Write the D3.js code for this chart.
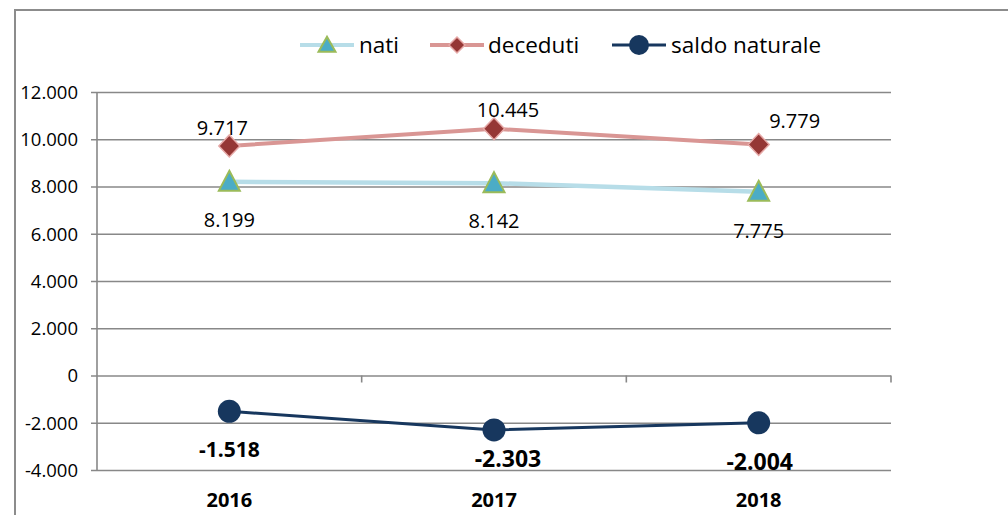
<!DOCTYPE html>
<html>
<head>
<meta charset="utf-8">
<script src="https://cdn.jsdelivr.net/npm/d3@7"></script>
<style>
  html, body { margin: 0; padding: 0; background: #fff; }
  svg { display: block; }
  text { font-family: "Open Sans", "Noto Sans", sans-serif; fill: #000; }
</style>
</head>
<body>
<svg id="chart" width="1008" height="515"></svg>
<script>
// ---- data ----
const years = ["2016", "2017", "2018"];
const nati = [8199, 8142, 7775];
const deceduti = [9717, 10445, 9779];
const saldo = [-1518, -2303, -2004];
const yTicks = [-4000, -2000, 0, 2000, 4000, 6000, 8000, 10000, 12000];
const seriesNames = ["nati", "deceduti", "saldo naturale"];

// ---- layout / style (not data) ----
const W = 1008, H = 515;
const plot = { left: 97, right: 891, top: 92, bottom: 470 };
const grid = "#888888";
const col = {
  natiLine: "#b7dde8", natiFill: "#4bacc6", natiStroke: "#9bbb59",
  decLine: "#d99694", decFill: "#953735", decStroke: "#e6a9a7",
  saldo: "#17375e"
};
// label offsets relative to each point [dx, dy of baseline]
const natiLab = [[0, 45], [0, 45], [0, 46]];
const decLab = [[-7, -11], [14, -12], [36, -16]];
const saldoLab = [[0, 46], [14, 37], [1, 47]];
const saldoSize = [21, 23, 23];

const loc = d3.formatLocale({ decimal: ",", thousands: ".", grouping: [3], currency: ["€", ""], minus: "-" });
const fmt = loc.format(",d");

const svg = d3.select("#chart");

// outer border (top and left visible)
svg.append("path")
  .attr("d", `M15,${H + 5} V10 H${W + 5}`)
  .attr("fill", "none").attr("stroke", "#8c8c8c").attr("stroke-width", 2);

const x = d3.scaleBand().domain(years).range([plot.left, plot.right]);
const y = d3.scaleLinear().domain([-4000, 12000]).range([plot.bottom, plot.top]);
const cx = d => x(d) + x.bandwidth() / 2;

// gridlines + left ticks
const yAxis = d3.axisLeft(y).tickValues(yTicks).tickFormat(fmt)
  .tickSize(-(plot.right - plot.left)).tickPadding(19);
const gy = svg.append("g").attr("transform", `translate(${plot.left},0)`).call(yAxis);
gy.attr("font-size", null).attr("font-family", null);
gy.select(".domain").remove();
gy.selectAll(".tick line")
  .attr("x1", -6)
  .attr("stroke", grid).attr("stroke-width", 1.6);
gy.selectAll(".tick text")
  .style("font-family", "'Open Sans', sans-serif")
  .style("font-size", "18.5px").attr("fill", "#000").attr("dy", "0.35em");

// vertical axis line
svg.append("line")
  .attr("x1", plot.left).attr("x2", plot.left)
  .attr("y1", y(12000)).attr("y2", y(-4000))
  .attr("stroke", grid).attr("stroke-width", 1.6);

// category ticks on the zero line
const boundaries = years.slice(1).map(d => x(d)).concat([plot.right]);
svg.append("g").selectAll("line").data(boundaries).join("line")
  .attr("x1", d => d).attr("x2", d => d)
  .attr("y1", y(0)).attr("y2", y(0) + 7)
  .attr("stroke", grid).attr("stroke-width", 1.6);

// category labels
svg.append("g").selectAll("text").data(years).join("text")
  .attr("x", d => cx(d)).attr("y", 507)
  .attr("text-anchor", "middle").style("font-size", "20px").attr("font-weight", "bold")
  .text(d => d);

const line = d3.line().x((v, i) => cx(years[i])).y(v => y(v));

svg.append("path").datum(nati).attr("d", line)
  .attr("fill", "none").attr("stroke", col.natiLine).attr("stroke-width", 4.5);
svg.append("path").datum(deceduti).attr("d", line)
  .attr("fill", "none").attr("stroke", col.decLine).attr("stroke-width", 4);
svg.append("path").datum(saldo).attr("d", line)
  .attr("fill", "none").attr("stroke", col.saldo).attr("stroke-width", 3);

function triPath(px, py, w, h) {
  return `M${px},${py - h * 0.55} L${px + w / 2},${py + h * 0.45} L${px - w / 2},${py + h * 0.45} Z`;
}
function diaPath(px, py, rx, ry) {
  return `M${px},${py - ry} L${px + rx},${py} L${px},${py + ry} L${px - rx},${py} Z`;
}

// markers
svg.append("g").selectAll("path").data(nati).join("path")
  .attr("d", (v, i) => triPath(cx(years[i]), y(v), 21, 20))
  .attr("fill", col.natiFill).attr("stroke", col.natiStroke).attr("stroke-width", 2);
svg.append("g").selectAll("path").data(deceduti).join("path")
  .attr("d", (v, i) => diaPath(cx(years[i]), y(v), 10.5, 11))
  .attr("fill", col.decFill).attr("stroke", col.decStroke).attr("stroke-width", 1.5);
svg.append("g").selectAll("circle").data(saldo).join("circle")
  .attr("cx", (v, i) => cx(years[i])).attr("cy", v => y(v)).attr("r", 11.5)
  .attr("fill", col.saldo);

// data labels
svg.append("g").selectAll("text").data(nati).join("text")
  .attr("x", (v, i) => cx(years[i]) + natiLab[i][0]).attr("y", (v, i) => y(v) + natiLab[i][1])
  .attr("text-anchor", "middle").style("font-size", "20px").text(v => fmt(v));
svg.append("g").selectAll("text").data(deceduti).join("text")
  .attr("x", (v, i) => cx(years[i]) + decLab[i][0]).attr("y", (v, i) => y(v) + decLab[i][1])
  .attr("text-anchor", "middle").style("font-size", "20px").text(v => fmt(v));
svg.append("g").selectAll("text").data(saldo).join("text")
  .attr("x", (v, i) => cx(years[i]) + saldoLab[i][0]).attr("y", (v, i) => y(v) + saldoLab[i][1])
  .attr("text-anchor", "middle").style("font-size", (v, i) => saldoSize[i] + "px").attr("font-weight", "bold")
  .text(v => fmt(v));

// legend
const legY = 45;
const legItems = [
  { name: seriesNames[0], x0: 300, x1: 354, tx: 359 },
  { name: seriesNames[1], x0: 430, x1: 484, tx: 488 },
  { name: seriesNames[2], x0: 612, x1: 666, tx: 671 }
];
const lg = svg.append("g");
legItems.forEach((it, i) => {
  const mid = (it.x0 + it.x1) / 2;
  const lc = i === 0 ? col.natiLine : i === 1 ? col.decLine : col.saldo;
  lg.append("line").attr("x1", it.x0).attr("x2", it.x1).attr("y1", legY).attr("y2", legY)
    .attr("stroke", lc).attr("stroke-width", i === 2 ? 3 : 4);
  if (i === 0) lg.append("path").attr("d", triPath(mid, legY, 17, 15))
    .attr("fill", col.natiFill).attr("stroke", col.natiStroke).attr("stroke-width", 2);
  if (i === 1) lg.append("path").attr("d", diaPath(mid, legY, 8, 8))
    .attr("fill", col.decFill).attr("stroke", col.decStroke).attr("stroke-width", 1.5);
  if (i === 2) lg.append("circle").attr("cx", mid).attr("cy", legY).attr("r", 10)
    .attr("fill", col.saldo);
  lg.append("text").attr("x", it.tx).attr("y", legY + 8).style("font-size", "22.5px").text(it.name);
});
</script>
</body>
</html>
